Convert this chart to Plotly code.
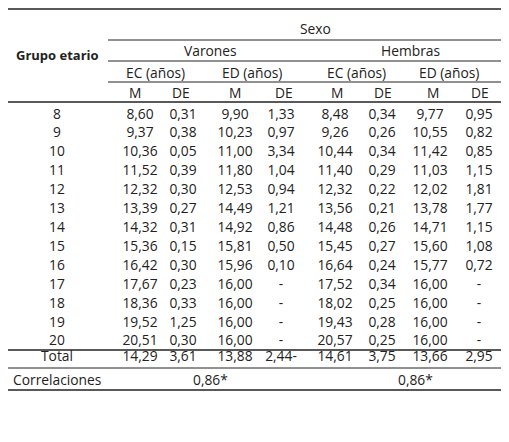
import plotly.graph_objects as go

grupos = ["8","9","10","11","12","13","14","15","16","17","18","19","20","Total"]
v_ec_m = ["8,60","9,37","10,36","11,52","12,32","13,39","14,32","15,36","16,42","17,67","18,36","19,52","20,51","14,29"]
v_ec_de = ["0,31","0,38","0,05","0,39","0,30","0,27","0,31","0,15","0,30","0,23","0,33","1,25","0,30","3,61"]
v_ed_m = ["9,90","10,23","11,00","11,80","12,53","14,49","14,92","15,81","15,96","16,00","16,00","16,00","16,00","13,88"]
v_ed_de = ["1,33","0,97","3,34","1,04","0,94","1,21","0,86","0,50","0,10","-","-","-","-","2,44-"]
h_ec_m = ["8,48","9,26","10,44","11,40","12,32","13,56","14,48","15,45","16,64","17,52","18,02","19,43","20,57","14,61"]
h_ec_de = ["0,34","0,26","0,34","0,29","0,22","0,21","0,26","0,27","0,24","0,34","0,25","0,28","0,25","3,75"]
h_ed_m = ["9,77","10,55","11,42","11,03","12,02","13,78","14,71","15,60","15,77","16,00","16,00","16,00","16,00","13,66"]
h_ed_de = ["0,95","0,82","0,85","1,15","1,81","1,77","1,15","1,08","0,72","-","-","-","-","2,95"]
correlaciones = ["0,86*", "0,86*"]

FONT = "Open Sans"
FS = 13.8
C = "#222222"
row_y = [116,134,153,172,191,210,229,248,267,286,305,324,342,358]
col_x = [57,140,183,235,281,335,382,430,479]
cols = [grupos, v_ec_m, v_ec_de, v_ed_m, v_ed_de, h_ec_m, h_ec_de, h_ed_m, h_ed_de]

fig = go.Figure()
for x, vals in zip(col_x, cols):
    fig.add_trace(go.Scatter(x=[x]*len(vals), y=row_y, text=vals, mode="text",
                             textfont=dict(family=FONT, size=FS, color=C), hoverinfo="skip"))

hdr = [("Sexo",315,28,False),("Varones",210,50,False),("Hembras",410,50,False),
       ("Grupo etario",57,55,True),
       ("EC (años)",155,72,False),("ED (años)",252,72,False),("EC (años)",356,72,False),("ED (años)",449,72,False),
       ("M",135,92,False),("DE",181,92,False),("M",235,92,False),("DE",284,92,False),
       ("M",337,92,False),("DE",383,92,False),("M",433,92,False),("DE",480,92,False),
       ("Correlaciones",57,379,False),(correlaciones[0],210,379,False),(correlaciones[1],415,379,False)]
for t,x,y,b in hdr:
    fig.add_annotation(x=x,y=y,text=f"<b>{t}</b>" if b else t,showarrow=False,
                       font=dict(family=FONT,size=FS if not b else 13,color=C))
fig.add_annotation(x=3,y=424,text="Nivel de significancia: * p<0,05",showarrow=False,xanchor="left",
                   font=dict(family=FONT,size=FS,color=C))

lines = [(3,505,9,1.5),(108,505,40,1),(108,505,61,1),(108,505,82,1),(3,505,102,1.5),
         (3,505,350,1.5),(3,505,368,1),(3,505,390,1.5)]
for x0,x1,y,w in lines:
    fig.add_shape(type="line",x0=x0,x1=x1,y0=y,y1=y,line=dict(color="#222",width=w))

fig.update_layout(width=501,height=434,margin=dict(l=0,r=0,t=0,b=0),showlegend=False,
                  plot_bgcolor="white",paper_bgcolor="white",
                  xaxis=dict(range=[8,509],visible=False,fixedrange=True),
                  yaxis=dict(range=[442,8],visible=False,fixedrange=True))
fig.write_html("out.html")
